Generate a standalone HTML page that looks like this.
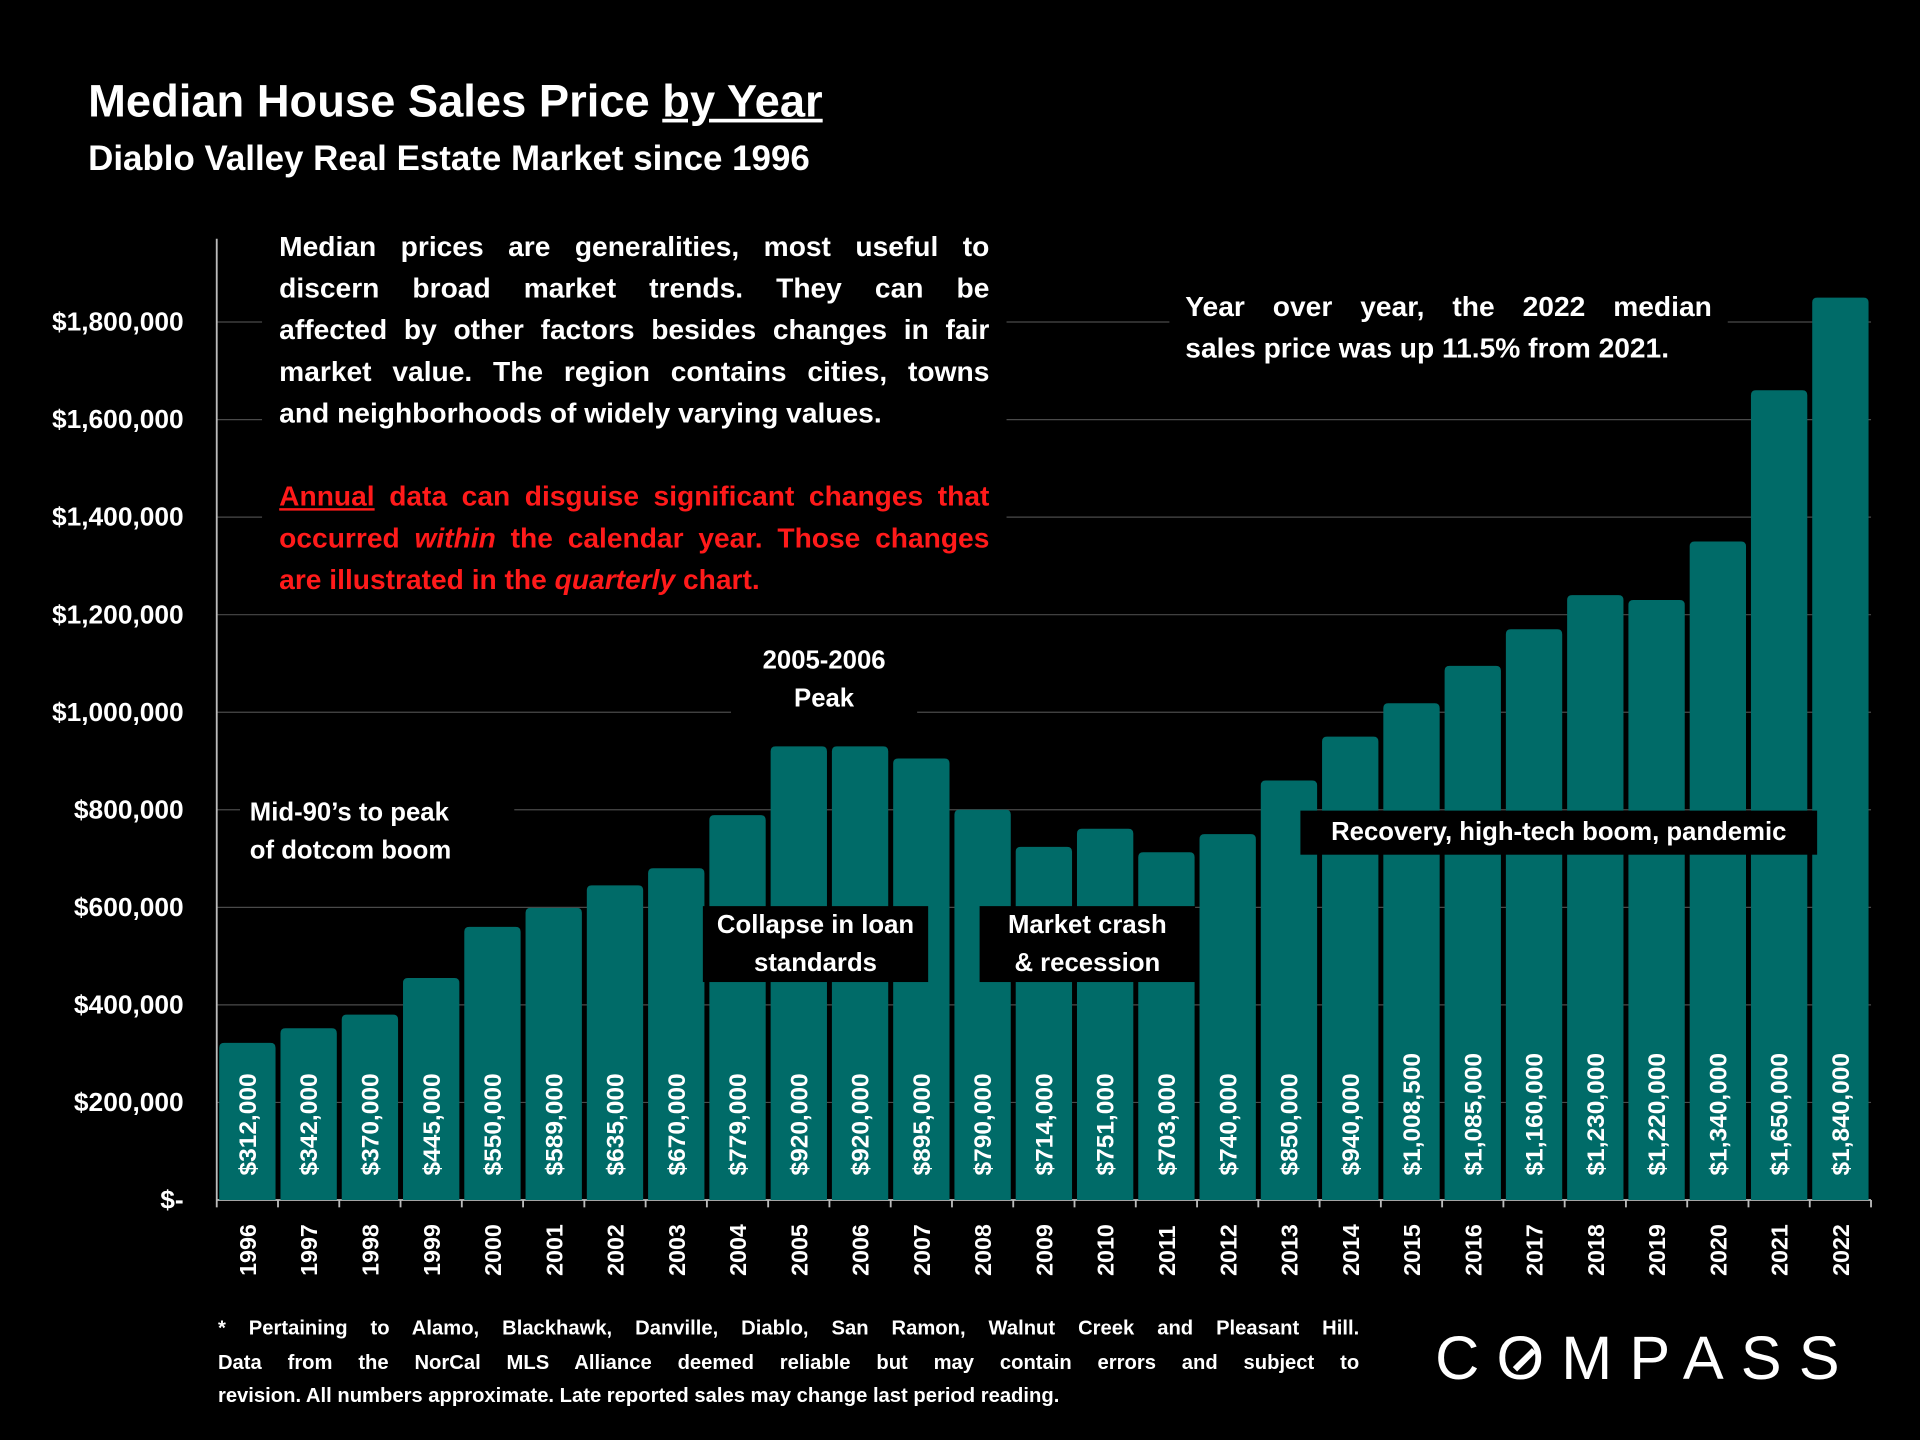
<!DOCTYPE html>
<html><head><meta charset="utf-8">
<style>
html,body{margin:0;padding:0;background:#000;}
body{width:1920px;height:1440px;overflow:hidden;}
#wrap{position:absolute;left:0;top:0;width:1568px;height:1176px;transform:scale(1.22449);transform-origin:0 0;font-family:"Liberation Sans",Arial,sans-serif;color:#fff;}
.t{position:absolute;font-weight:bold;}
.box{position:absolute;background:#000;font-weight:bold;}
.j{text-align:justify;text-align-last:justify;white-space:nowrap;}
.l{text-align:left;white-space:nowrap;}
</style></head>
<body>
<div id="wrap">
<svg id="chart" width="1568" height="1176" style="position:absolute;left:0;top:0"></svg>

<div class="t" style="left:72px;top:62px;font-size:37px;">Median House Sales Price <span style="text-decoration:underline">by Year</span></div>
<div class="t" style="left:72px;top:114px;font-size:28.5px;">Diablo Valley Real Estate Market since 1996</div>

<div class="box" style="left:214px;top:184px;width:580px;padding:0 14px;font-size:23px;line-height:34px;">
<div class="j">Median prices are generalities, most useful to</div>
<div class="j">discern broad market trends. They can be</div>
<div class="j">affected by other factors besides changes in fair</div>
<div class="j">market value. The region contains cities, towns</div>
<div class="l">and neighborhoods of widely varying values.</div>
<div style="height:34px"></div>
<div style="color:#ff1a1a">
<div class="j"><u>Annual</u> data can disguise significant changes that</div>
<div class="j">occurred <i>within</i> the calendar year. Those changes</div>
<div class="l">are illustrated in the <i>quarterly</i> chart.</div>
</div>
</div>

<div class="box" style="left:955px;top:233px;width:430px;padding:0 13px;font-size:23px;line-height:34px;">
<div class="j">Year over year, the 2022 median</div>
<div class="l">sales price was up 11.5% from 2021.</div>
</div>

<div class="box" style="left:597px;top:524px;width:152px;font-size:21px;line-height:31px;text-align:center;">2005-2006<br>Peak</div>
<div class="box" style="left:196px;top:648px;width:216px;padding-left:8px;font-size:21px;line-height:31px;">Mid-90’s to peak<br>of dotcom boom</div>
<div class="box" style="left:574px;top:740px;width:184px;font-size:21px;line-height:31px;text-align:center;">Collapse in loan<br>standards</div>
<div class="box" style="left:800px;top:740px;width:176px;font-size:21px;line-height:31px;text-align:center;">Market crash<br>&amp; recession</div>
<div class="box" style="left:1062px;top:662px;width:422px;font-size:21px;line-height:36px;text-align:center;">Recovery, high-tech boom, pandemic</div>

<div class="t" style="left:178px;top:1072px;width:932px;font-size:16.5px;line-height:27.5px;">
<div class="j">* Pertaining to Alamo, Blackhawk, Danville, Diablo, San Ramon, Walnut Creek and Pleasant Hill.</div>
<div class="j">Data from the NorCal MLS Alliance deemed reliable but may contain errors and subject to</div>
<div class="l">revision. All numbers approximate. Late reported sales may change last period reading.</div>
</div>
<div style="position:absolute;left:1172px;top:1080px;font-size:50px;letter-spacing:14px;font-family:'Liberation Sans',sans-serif;">C<span style="display:inline-block;position:relative">O<span style="position:absolute;left:12px;top:28px;width:22px;height:5px;background:#fff;transform:rotate(-45deg)"></span></span>MPASS</div>
</div>

<script>
const years=["1996","1997","1998","1999","2000","2001","2002","2003","2004","2005","2006","2007","2008","2009","2010","2011","2012","2013","2014","2015","2016","2017","2018","2019","2020","2021","2022"];
const values=[312000,342000,370000,445000,550000,589000,635000,670000,779000,920000,920000,895000,790000,714000,751000,703000,740000,850000,940000,1008500,1085000,1160000,1230000,1220000,1340000,1650000,1840000];
const valueLabels=["$312,000","$342,000","$370,000","$445,000","$550,000","$589,000","$635,000","$670,000","$779,000","$920,000","$920,000","$895,000","$790,000","$714,000","$751,000","$703,000","$740,000","$850,000","$940,000","$1,008,500","$1,085,000","$1,160,000","$1,230,000","$1,220,000","$1,340,000","$1,650,000","$1,840,000"];
const ticks=[0,200000,400000,600000,800000,1000000,1200000,1400000,1600000,1800000];
const tickLabels=["$-","$200,000","$400,000","$600,000","$800,000","$1,000,000","$1,200,000","$1,400,000","$1,600,000","$1,800,000"];

const svg=document.getElementById('chart');
const NS='http://www.w3.org/2000/svg';
const x0=177,x1=1528,y0=980,yTop=263,vTop=1800000;
const slot=(x1-x0)/years.length;
const y=v=>y0-(v/vTop)*(y0-yTop);
const xc=i=>x0+slot*(i+0.5);
function mk(tag,attrs){const e=document.createElementNS(NS,tag);for(const k in attrs)e.setAttribute(k,attrs[k]);svg.appendChild(e);return e;}

ticks.forEach((t,i)=>{
  if(t>0){const g=mk('line',{x1:x0,x2:x1,y1:y(t),y2:y(t),stroke:'#4a4a4a','stroke-width':1});
  
  }
  const l=mk('text',{x:150,y:y(t)+7,'text-anchor':'end',fill:'#fff','font-size':21.5,'font-weight':'bold','font-family':'Liberation Sans, sans-serif'});
  l.textContent=tickLabels[i];
  
  
});
const ax=mk('line',{x1:x0,x2:x0,y1:195,y2:y0,stroke:'#bbb','stroke-width':1.5});


const xa=mk('line',{x1:x0,x2:x1,y1:y0,y2:y0,stroke:'#bbb','stroke-width':1.5});


for(let i=0;i<=years.length;i++){
  const tk=mk('line',{x1:x0+slot*i,x2:x0+slot*i,y1:y0,y2:y0+6,stroke:'#bbb','stroke-width':1.5});
  
  
}
values.forEach((v,i)=>{
  const w=46,bx=xc(i)-w/2,by=y(v)-4,h=y0-by;
  const b=mk('path',{d:`M${bx},${y0}V${by+4}Q${bx},${by} ${bx+4},${by}H${bx+w-4}Q${bx+w},${by} ${bx+w},${by+4}V${y0}Z`,fill:'#006b68'});
  
  
  const vl=mk('text',{transform:`translate(${xc(i)+7},960) rotate(-90)`,fill:'#fff','font-size':20,'font-weight':'bold','font-family':'Liberation Sans, sans-serif'});
  vl.textContent=valueLabels[i];
  
  
  const yl=mk('text',{transform:`translate(${xc(i)+7},1042) rotate(-90)`,fill:'#fff','font-size':19,'font-weight':'bold','font-family':'Liberation Sans, sans-serif'});
  yl.textContent=years[i];
  
  
});
</script>
</body></html>
